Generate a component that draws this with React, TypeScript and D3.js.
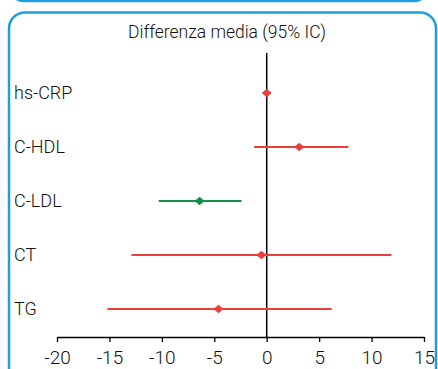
import React, { useEffect, useRef } from 'react';
import * as d3 from 'd3';

const labels = ['hs-CRP', 'C-HDL', 'C-LDL', 'CT', 'TG'];
const means = [0.0, 3.1, -6.4, -0.5, -4.6];
const lower = [-0.3, -1.2, -10.3, -12.9, -15.2];
const upper = [0.3, 7.8, -2.4, 11.9, 6.2];
const significant = [false, false, true, false, false];
const xTicks = [-20, -15, -10, -5, 0, 5, 10, 15];

const W = 438;
const H = 369;
const FONT = 'Roboto, "Open Sans", sans-serif';
const BLUE = '#1b9fe0';
const RED = '#e8403b';
const GREEN = '#15914a';

const App: React.FC = () => {
  const svgRef = useRef<SVGSVGElement>(null);

  useEffect(() => {
    if (!svgRef.current) return;
    const svg = d3.select(svgRef.current);
    svg.selectAll('*').remove();

    // frames (bottom of the panel above, and this panel)
    svg.append('rect')
      .attr('x', 9).attr('y', -50).attr('width', 420).attr('height', 51)
      .attr('rx', 15).attr('fill', 'none').attr('stroke', BLUE).attr('stroke-width', 2.5);
    svg.append('rect')
      .attr('x', 9).attr('y', 12.5).attr('width', 427).attr('height', 420)
      .attr('rx', 16).attr('fill', 'none').attr('stroke', BLUE).attr('stroke-width', 2.5);

    const x = d3.scaleLinear().domain([-20, 15]).range([57, 424]);
    const y = d3.scalePoint<string>().domain(labels).range([93, 309]);
    const axisY = 337;

    svg.append('text')
      .attr('x', 227).attr('y', 38)
      .attr('text-anchor', 'middle')
      .attr('font-family', FONT).attr('font-weight', 300).attr('font-size', 17.5).attr('fill', '#111')
      .text('Differenza media (95% IC)');

    // zero line
    svg.append('line')
      .attr('x1', x(0)).attr('x2', x(0))
      .attr('y1', 53).attr('y2', axisY)
      .attr('stroke', '#000').attr('stroke-width', 1.5);

    // axis
    const axis = svg.append('g')
      .attr('transform', `translate(0,${axisY})`)
      .call(d3.axisBottom(x).tickValues(xTicks).tickSize(5).tickSizeOuter(0).tickPadding(9)
        .tickFormat(d => String(d)));
    axis.select('.domain').attr('stroke', '#000').attr('stroke-width', 1.3);
    axis.selectAll('.tick line').attr('stroke', '#000').attr('stroke-width', 1.3);
    axis.selectAll('.tick text')
      .attr('font-family', FONT).attr('font-weight', 300).attr('font-size', 19).attr('fill', '#111');

    // row labels
    svg.selectAll('text.row')
      .data(labels)
      .enter()
      .append('text')
      .attr('class', 'row')
      .attr('x', 14)
      .attr('y', d => y(d)!)
      .attr('dy', '0.35em')
      .attr('font-family', FONT).attr('font-weight', 300).attr('font-size', 18).attr('fill', '#111')
      .text(d => d);

    const rows = labels.map((l, i) => ({ l, m: means[i], lo: lower[i], hi: upper[i], sig: significant[i] }));

    svg.selectAll('line.ci')
      .data(rows)
      .enter()
      .append('line')
      .attr('class', 'ci')
      .attr('x1', d => x(d.lo)).attr('x2', d => x(d.hi))
      .attr('y1', d => y(d.l)!).attr('y2', d => y(d.l)!)
      .attr('stroke', d => (d.sig ? GREEN : RED))
      .attr('stroke-width', 2);

    const diamond = d3.symbol().type(d3.symbolSquare).size(38);
    svg.selectAll('path.pt')
      .data(rows)
      .enter()
      .append('path')
      .attr('class', 'pt')
      .attr('d', diamond())
      .attr('transform', d => `translate(${x(d.m)},${y(d.l)}) scale(1.15,1) rotate(45)`)
      .attr('fill', d => (d.sig ? GREEN : RED));
  }, []);

  return (
    <svg
      ref={svgRef}
      width={W}
      height={H}
      style={{ position: 'absolute', left: 0, top: 0, background: '#fff' }}
    />
  );
};

export default App;
